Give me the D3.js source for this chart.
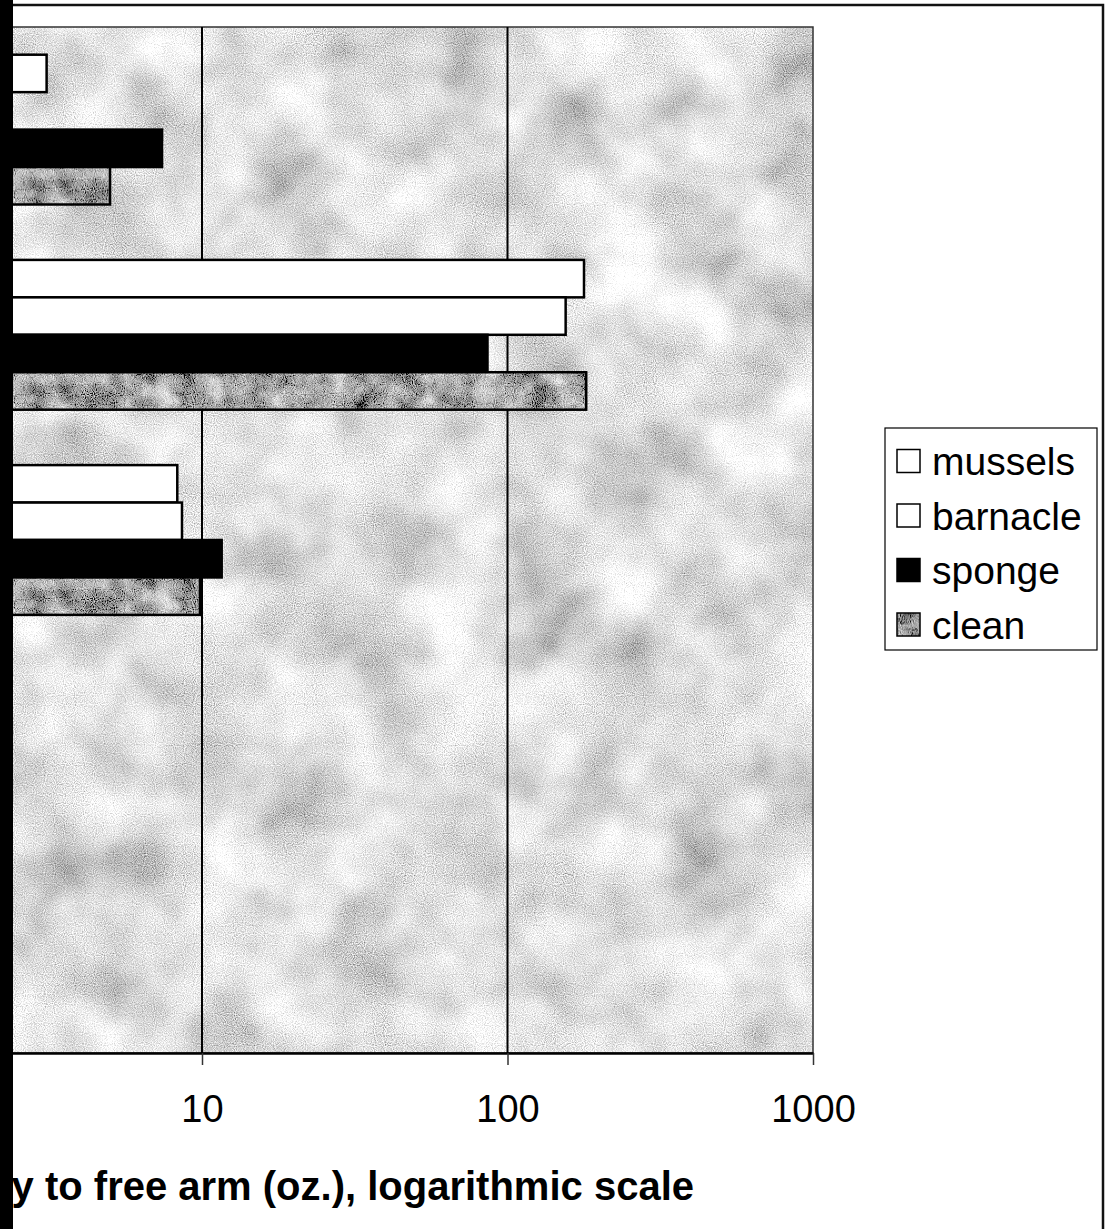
<!DOCTYPE html>
<html>
<head>
<meta charset="utf-8">
<script src="https://cdn.jsdelivr.net/npm/d3@7"></script>
<style>
    body { margin: 0; background: #fff; }
    svg { display: block; }
</style>
</head>
<body>
<div id="chart"></div>
<script>
// data (left part of the chart is cut off, category labels not visible)
const categories = ['group 1', 'group 2', 'group 3', 'group 4', 'group 5'];
const seriesNames = ['mussels', 'barnacle', 'sponge', 'clean'];
const mussels = [3.1, 178, 8.3, null, null];
const barnacle = [null, 155, 8.6, null, null];
const sponge = [7.4, 86, 11.6, null, null];
const clean = [5.0, 181, 9.85, null, null];
const xTicks = [1, 10, 100, 1000];
const xTitle = 'y to free arm (oz.), logarithmic scale';

const seriesValues = {mussels, barnacle, sponge, clean};

const W = 1119;
const H = 1229;
const FONT = '"Liberation Sans", Arial, Helvetica, sans-serif';

// plot box; the decade width is what the scan shows, left edge falls off the page
const plot = {top: 27, bottom: 1053, right: 813, decade: 305.5};
plot.left = plot.right - 3 * plot.decade;

const svg = d3.select('#chart')
  .append('svg')
    .attr('width', W)
    .attr('height', H);

const defs = svg.append('defs');

// noisy fills standing in for the excel textures: coarse blotches mixed with fine grain
function buildTexture(id, spec) {
    const filter = defs
      .append('filter')
        .attr('id', `${id}-filter`)
        .attr('x', 0)
        .attr('y', 0)
        .attr('width', 1)
        .attr('height', 1);
    filter
      .append('feTurbulence')
        .attr('type', 'fractalNoise')
        .attr('baseFrequency', spec.coarse)
        .attr('numOctaves', 3)
        .attr('seed', spec.seed)
        .attr('result', 'coarse');
    filter
      .append('feTurbulence')
        .attr('type', 'fractalNoise')
        .attr('baseFrequency', 0.9)
        .attr('numOctaves', 1)
        .attr('seed', spec.seed + 1)
        .attr('result', 'fine');
    filter
      .append('feComposite')
        .attr('in', 'coarse')
        .attr('in2', 'fine')
        .attr('operator', 'arithmetic')
        .attr('k1', 0)
        .attr('k2', spec.mix)
        .attr('k3', 1 - spec.mix)
        .attr('k4', 0);
    const row = `${spec.gain} 0 0 0 ${spec.mean - spec.gain / 2}`;
    filter
      .append('feColorMatrix')
        .attr('type', 'matrix')
        .attr('values', `${row} ${row} ${row} 0 0 0 0 1`);

    defs
      .append('pattern')
        .attr('id', id)
        .attr('patternUnits', 'userSpaceOnUse')
        .attr('x', 0)
        .attr('y', 0)
        .attr('width', W)
        .attr('height', H)
      .append('rect')
        .attr('width', W)
        .attr('height', H)
        .attr('filter', `url(#${id}-filter)`);
}

buildTexture('granite', {coarse: 0.012, mix: 0.45, gain: 2.1, mean: 0.74, seed: 7});
buildTexture('clean-tex', {coarse: 0.04, mix: 0.4, gain: 2.4, mean: 0.4, seed: 3});

const seriesFill = {
    mussels: '#ffffff',
    barnacle: '#ffffff',
    sponge: '#000000',
    clean: 'url(#clean-tex)'
};

const x = d3.scaleLog()
    .domain([xTicks[0], xTicks[xTicks.length - 1]])
    .range([plot.left, plot.right]);

const y = d3.scaleBand()
    .domain(categories)
    .range([plot.top, plot.bottom])
    .paddingInner(0.27)
    .paddingOuter(0.135);

const ySeries = d3.scaleBand()
    .domain(seriesNames)
    .range([0, y.bandwidth()]);

// plot area background
svg.append('rect')
    .attr('x', plot.left)
    .attr('y', plot.top)
    .attr('width', plot.right - plot.left)
    .attr('height', plot.bottom - plot.top)
    .attr('fill', 'url(#granite)')
    .attr('stroke', '#333')
    .attr('stroke-width', 1.5);

// vertical gridlines
svg.append('g')
  .selectAll('line')
  .data(xTicks.slice(1, -1))
  .enter()
  .append('line')
    .attr('x1', (d) => x(d))
    .attr('x2', (d) => x(d))
    .attr('y1', plot.top)
    .attr('y2', plot.bottom)
    .attr('stroke', '#000')
    .attr('stroke-width', 2);

// bars
const groups = svg.append('g')
  .selectAll('g')
  .data(categories)
  .enter()
  .append('g')
    .attr('transform', (d) => `translate(0, ${y(d)})`);

groups.selectAll('rect')
  .data((d, i) => seriesNames
      .map((name) => ({name, value: seriesValues[name][i]}))
      .filter((b) => b.value != null))
  .enter()
  .append('rect')
    .attr('x', x(xTicks[0]))
    .attr('y', (d) => ySeries(d.name))
    .attr('width', (d) => x(d.value) - x(xTicks[0]))
    .attr('height', ySeries.bandwidth())
    .attr('fill', (d) => seriesFill[d.name])
    .attr('stroke', '#000')
    .attr('stroke-width', 2.5);

// x axis, only the ticks that are still on the page get a label
const axis = svg.append('g')
    .attr('transform', `translate(0, ${plot.bottom})`)
    .call(d3.axisBottom(x)
        .tickValues(xTicks.filter((d) => x(d) > 0))
        .tickFormat(d3.format('d'))
        .tickSize(12)
        .tickSizeOuter(0)
        .tickPadding(30));

axis.select('.domain')
    .attr('stroke', '#000')
    .attr('stroke-width', 2.5);
axis.selectAll('.tick line')
    .attr('stroke', '#333')
    .attr('stroke-width', 1.5);
axis.selectAll('.tick text')
    .attr('fill', '#000')
    .style('font-family', FONT)
    .style('font-size', '38px');

svg.append('text')
    .attr('x', 694)
    .attr('y', 1200)
    .attr('text-anchor', 'end')
    .style('font-family', FONT)
    .style('font-size', '40px')
    .style('font-weight', 'bold')
    .text(xTitle);

// legend
const legend = svg.append('g')
    .attr('transform', 'translate(885, 428)');

legend.append('rect')
    .attr('width', 212)
    .attr('height', 222)
    .attr('fill', '#fff')
    .attr('stroke', '#000')
    .attr('stroke-width', 1.2);

const legendRows = legend
  .selectAll('g')
  .data(seriesNames)
  .enter()
  .append('g')
    .attr('transform', (d, i) => `translate(12, ${33 + i * 54.5})`);

legendRows.append('rect')
    .attr('x', 0)
    .attr('y', -11.5)
    .attr('width', 23)
    .attr('height', 23)
    .attr('fill', (d) => seriesFill[d])
    .attr('stroke', '#000')
    .attr('stroke-width', 1.5);

legendRows.append('text')
    .attr('x', 35)
    .attr('y', 14)
    .style('font-family', FONT)
    .style('font-size', '39px')
    .text((d) => d);

// outer chart border (top and right visible) and the dark scan edge on the left
svg.append('path')
    .attr('d', `M0,5H1103V${H}`)
    .attr('fill', 'none')
    .attr('stroke', '#111')
    .attr('stroke-width', 2.5);

svg.append('rect')
    .attr('x', 0)
    .attr('y', 0)
    .attr('width', 13)
    .attr('height', H)
    .attr('fill', '#000');
</script>
</body>
</html>
